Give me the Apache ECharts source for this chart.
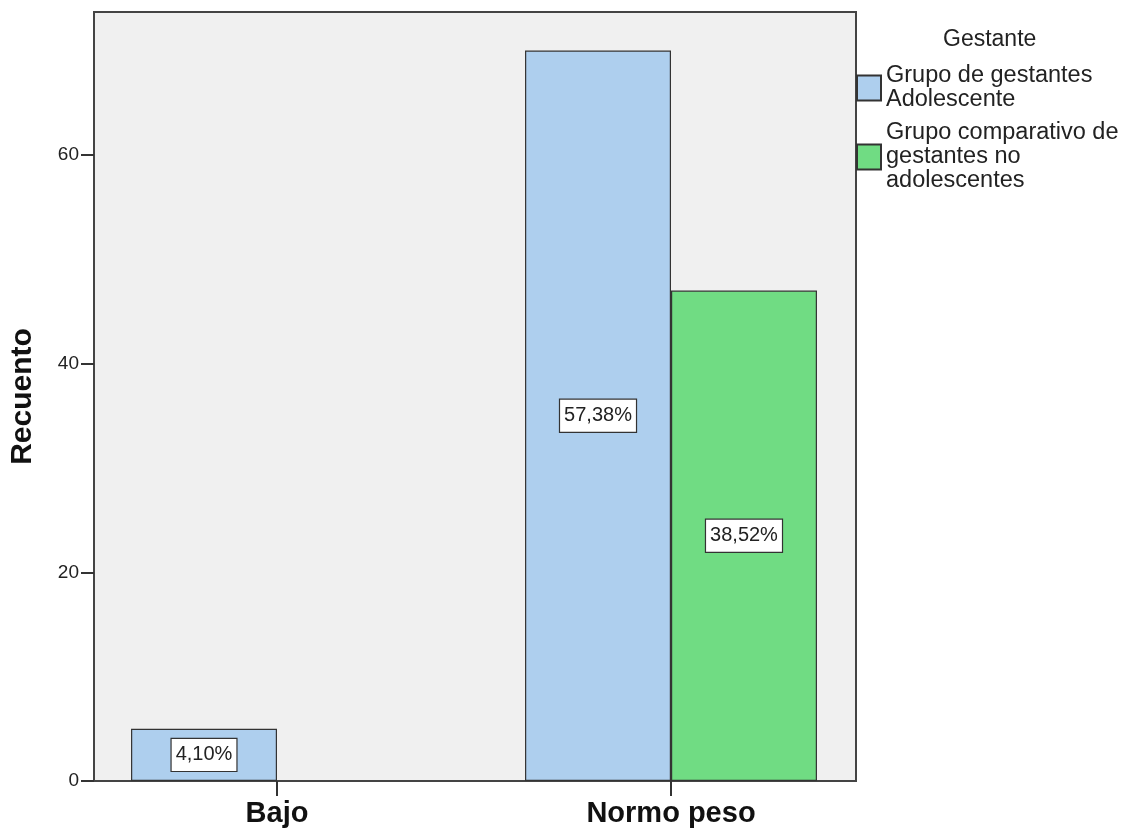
<!DOCTYPE html>
<html>
<head>
<meta charset="utf-8">
<script src="https://cdn.jsdelivr.net/npm/echarts@6/dist/echarts.min.js"></script>
<style>
  html, body { margin: 0; padding: 0; background: #ffffff; }
  #chart { width: 1126px; height: 833px; }
</style>
</head>
<body>
<div id="chart"></div>
<script>
// Estado nutricional por grupo de gestantes (recuentos)
const categories = ['Bajo', 'Normo peso'];
const seriesNames = ['Grupo de gestantes\nAdolescente', 'Grupo comparativo de\ngestantes no\nadolescentes'];
const adolescentes = [5, 70];
const noAdolescentes = [null, 47];
const adolescentesPct = ['4,10%', '57,38%'];
const noAdolescentesPct = ['', '38,52%'];
const yTicks = [0, 20, 40, 60];
const yMax = 73.7;

const FONT = '"Liberation Sans", Arial, sans-serif';
const colors = ['#aecfee', '#70dc83'];

const pctLabel = {
  show: true,
  position: 'inside',
  fontFamily: FONT,
  fontSize: 20,
  color: '#222',
  backgroundColor: '#ffffff',
  borderColor: '#333',
  borderWidth: 1.2,
  padding: [6, 4, 5, 4],
  lineHeight: 21
};

function buildData(values, labels) {
  return values.map((v, i) => ({ value: v == null ? '-' : v, pct: labels[i] }));
}

const chart = echarts.init(document.getElementById('chart'), null, { renderer: 'canvas' });

chart.setOption({
  animation: false,
  textStyle: { fontFamily: FONT },
  title: {
    text: 'Gestante',
    left: 943,
    top: 28,
    padding: 0,
    textStyle: { fontFamily: FONT, fontSize: 23, fontWeight: 'normal', color: '#222', lineHeight: 24 }
  },
  legend: {
    orient: 'vertical',
    left: 856,
    top: 64,
    padding: 0,
    itemGap: 9,
    itemWidth: 24,
    itemHeight: 25,
    icon: 'rect',
    data: seriesNames,
    textStyle: { fontFamily: FONT, fontSize: 23.5, color: '#222', lineHeight: 24 }
  },
  grid: [
    // frame and background of the plot area
    { left: 93, right: 270, top: 12, bottom: 52, show: true, backgroundColor: '#f0f0f0', borderColor: '#444', borderWidth: 2 },
    // grid hosting the bars
    { left: 80, right: 258, top: 12, bottom: 52 }
  ],
  xAxis: [
    { gridIndex: 0, type: 'value', show: false, min: 0, max: 1 },
    {
      gridIndex: 1,
      type: 'category',
      data: categories,
      axisLine: { show: false },
      axisTick: { show: true, alignWithLabel: true, length: 15, lineStyle: { color: '#333', width: 2 } },
      axisLabel: { fontFamily: FONT, fontSize: 29, fontWeight: 'bold', color: '#111', margin: 18 }
    }
  ],
  yAxis: [
    {
      gridIndex: 0,
      type: 'value',
      min: 0,
      max: yMax,
      interval: 20,
      name: 'Recuento',
      nameLocation: 'middle',
      nameGap: 56,
      nameTextStyle: { fontFamily: FONT, fontSize: 30, fontWeight: 'bold', color: '#111' },
      axisLine: { show: false },
      splitLine: { show: false },
      axisTick: { show: true, length: 13, lineStyle: { color: '#333', width: 2 }, customValues: yTicks },
      axisLabel: { fontFamily: FONT, fontSize: 19, color: '#222', margin: 15, customValues: yTicks }
    },
    { gridIndex: 1, type: 'value', min: 0, max: yMax, show: false }
  ],
  series: [
    {
      name: seriesNames[0],
      type: 'bar',
      xAxisIndex: 1,
      yAxisIndex: 1,
      barGap: '0%',
      barCategoryGap: '25.9%',
      data: buildData(adolescentes, adolescentesPct),
      itemStyle: { color: colors[0], borderColor: '#333', borderWidth: 1.2 },
      label: Object.assign({}, pctLabel, { formatter: p => p.data.pct })
    },
    {
      name: seriesNames[1],
      type: 'bar',
      xAxisIndex: 1,
      yAxisIndex: 1,
      barGap: '0%',
      barCategoryGap: '25.9%',
      data: buildData(noAdolescentes, noAdolescentesPct),
      itemStyle: { color: colors[1], borderColor: '#333', borderWidth: 1.2 },
      label: Object.assign({}, pctLabel, { formatter: p => p.data.pct })
    }
  ]
});
</script>
</body>
</html>
